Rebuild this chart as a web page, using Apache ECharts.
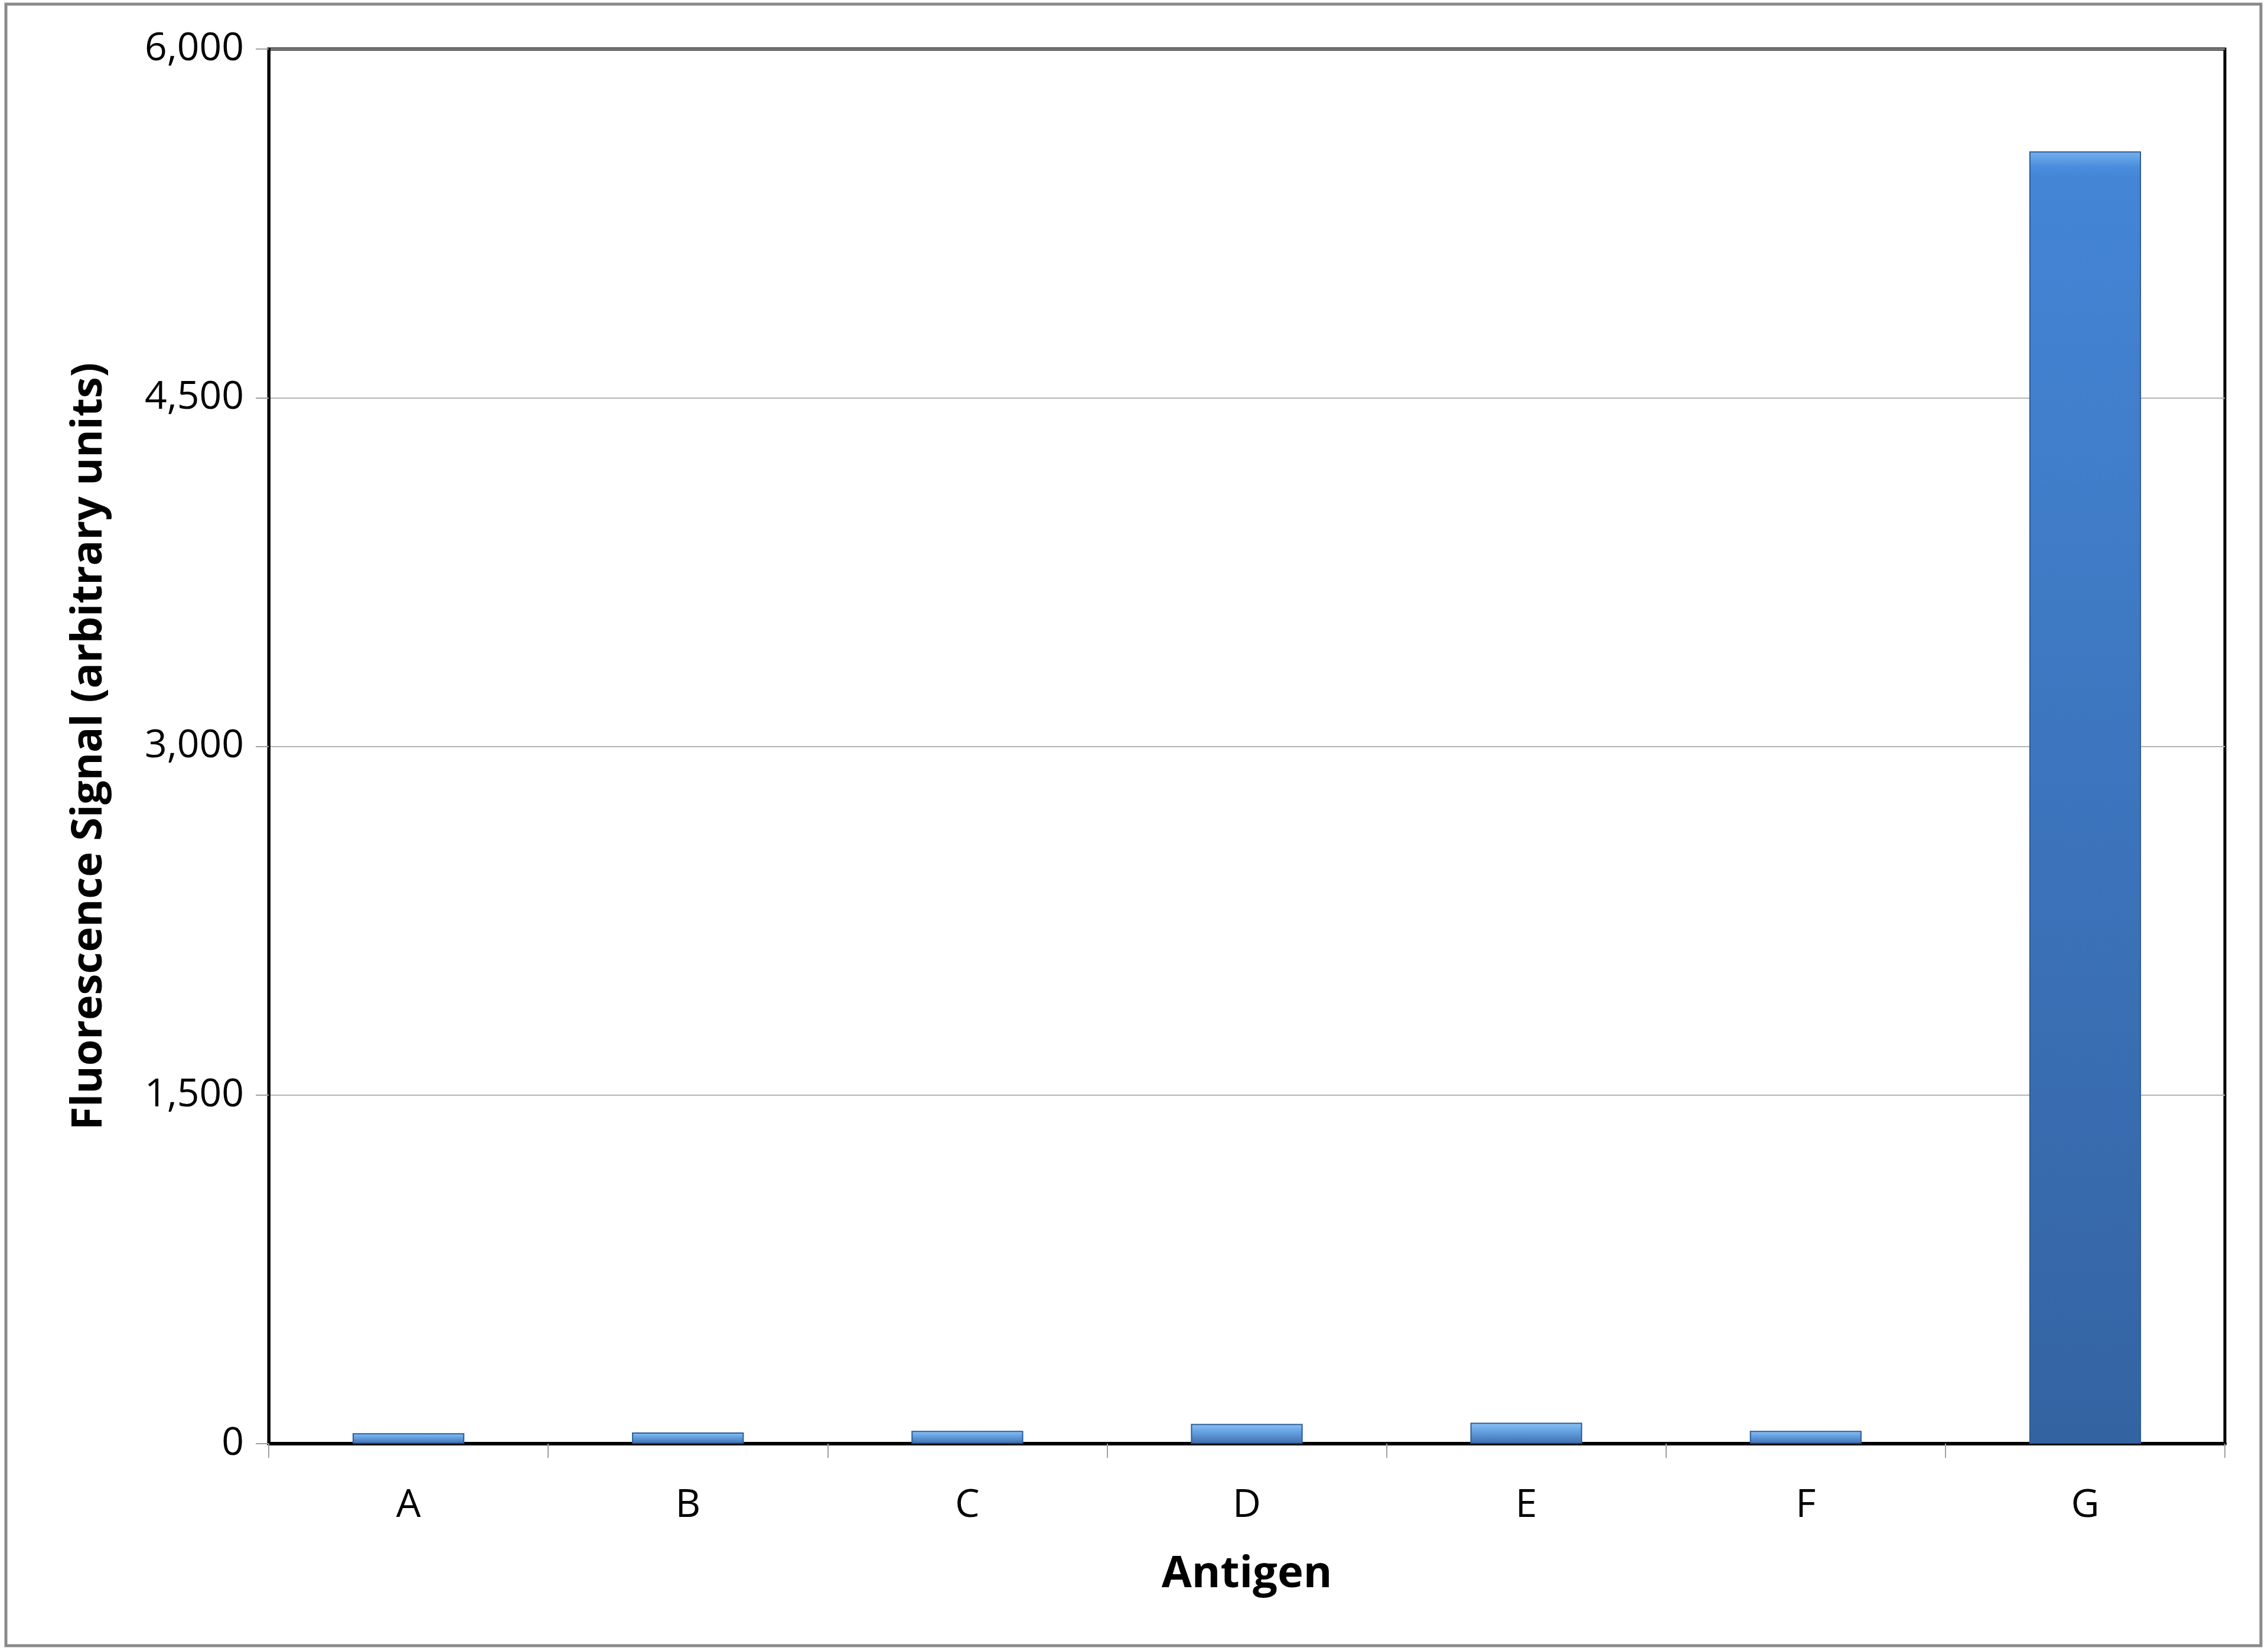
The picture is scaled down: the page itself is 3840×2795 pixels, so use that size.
<!DOCTYPE html>
<html>
<head>
<meta charset="utf-8">
<script src="https://cdn.jsdelivr.net/npm/echarts@6/dist/echarts.min.js"></script>
<style>
html,body{margin:0;padding:0;background:#fff;}
#chart{width:3840px;height:2795px;}
</style>
</head>
<body>
<div id="chart"></div>
<script>
const categories = ['A', 'B', 'C', 'D', 'E', 'F', 'G'];
const signalValues = [45, 48, 55, 85, 90, 55, 5560];
const yTickValues = [0, 1500, 3000, 4500, 6000];

const chart = echarts.init(document.getElementById('chart'));

function barStyle(v) {
  const tall = v > 1000;
  return {
    color: new echarts.graphic.LinearGradient(0, 0, 0, 1, tall ? [
      {offset: 0, color: '#76b2ee'},
      {offset: 0.012, color: '#4a8ddd'},
      {offset: 0.02, color: '#4485d6'},
      {offset: 1, color: '#3463a2'}
    ] : [
      {offset: 0, color: '#8ec4f4'},
      {offset: 0.35, color: '#6aa6e6'},
      {offset: 1, color: '#3f6faf'}
    ]),
    borderColor: '#2f5c96',
    borderWidth: 2
  };
}

const font = '"Open Sans", "Liberation Sans", sans-serif';

chart.setOption({
  backgroundColor: '#ffffff',
  animation: false,
  graphic: [{
    type: 'rect',
    shape: {x: 10, y: 7, width: 3818, height: 2779},
    style: {fill: 'none', stroke: '#8a8a8a', lineWidth: 5},
    silent: true
  }],
  grid: {
    left: 455, right: 73, top: 83, bottom: 351,
    show: true, borderColor: '#000', borderWidth: 5, backgroundColor: 'transparent'
  },
  xAxis: {
    type: 'category',
    data: categories,
    name: 'Antigen',
    nameLocation: 'middle',
    nameGap: 185,
    nameTextStyle: {fontFamily: font, fontWeight: 'bold', fontSize: 74, color: '#000'},
    axisLine: {lineStyle: {color: '#000', width: 6}},
    axisTick: {show: true, length: 24, lineStyle: {color: '#a0a0a0', width: 2}},
    axisLabel: {fontFamily: font, fontSize: 66, color: '#000', margin: 72}
  },
  yAxis: {
    type: 'value',
    min: 0, max: 6000, interval: 1500,
    name: 'Fluorescence Signal (arbitrary units)',
    nameLocation: 'middle',
    nameGap: 268,
    nameTextStyle: {fontFamily: font, fontWeight: 'bold', fontSize: 72, color: '#000'},
    axisLine: {show: true, lineStyle: {color: '#000', width: 5}},
    axisTick: {show: true, length: 22, lineStyle: {color: '#a0a0a0', width: 2}},
    axisLabel: {
      fontFamily: font, fontSize: 66, color: '#000', margin: 42,
      formatter: function (v) { return yTickValues.indexOf(v) >= 0 ? v.toLocaleString('en-US') : ''; }
    },
    splitLine: {show: true, lineStyle: {color: '#b4b4b4', width: 2}}
  },
  series: [{
    type: 'bar',
    barWidth: '40%',
    data: signalValues.map(v => ({value: v, itemStyle: barStyle(v)}))
  }]
});
</script>
</body>
</html>
